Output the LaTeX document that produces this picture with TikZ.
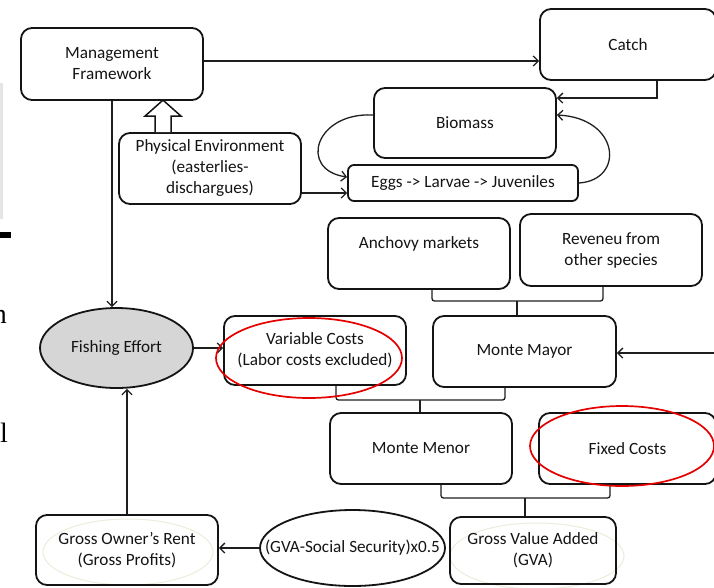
\documentclass[tikz,border=0pt]{standalone}
\usepackage{fontspec}
\setmainfont{Carlito}
\newfontfamily\serifcut{Liberation Serif}
\usetikzlibrary{arrows.meta,calc,shapes.geometric}
\begin{document}
\begin{tikzpicture}[x=1pt,y=-1pt,
  every node/.style={font=\fontsize{17.2}{21}\selectfont, text=black!92},
  box/.style={draw=black!92, line width=1.8pt, rounded corners=11pt, align=center, inner sep=0pt},
  oval/.style={ellipse, draw=black!92, line width=1.8pt, inner sep=0pt},
  conn/.style={draw=black!88, line width=1.3pt, -{Straight Barb[length=5pt,width=10pt]}},
  brace/.style={draw=black!88, line width=1.3pt, rounded corners=2.5pt},
  redring/.style={draw=red!90!black, line width=1.7pt},
  halo/.style={draw={rgb,255:red,236;green,235;blue,220}, line width=1pt},
  blockarrow/.style={draw=black!92, line width=1.5pt, fill=white, line join=miter},
  edgetext/.style={font=\serifcut\fontsize{28}{28}\selectfont, anchor=base east, inner sep=0pt, text=black}]
\useasboundingbox (0,0) rectangle (714,587);

% fragments of the neighbouring page along the left edge
\fill[black!10] (0,83) rectangle (2.5,219);
\fill[black] (0,232) rectangle (11,238);
\node[edgetext] (cutn) at (7,323) {n};
\node[edgetext] (cutl) at (8,442) {l};

% faint rings behind the bottom boxes
\draw[halo] (128,552) ellipse [x radius=85pt, y radius=33pt];
\draw[halo] (537,556) ellipse [x radius=87pt, y radius=33pt];

% boxes
\node[box, minimum width=182pt, minimum height=72pt] (mf) at (112,64) {Management\\Framework};
\node[box, minimum width=176pt, minimum height=71pt] (cat) at (628,44.5) {\raisebox{-2pt}{Catch}};
\node[box, minimum width=182pt, minimum height=70pt] (bio) at (465,123) {\raisebox{-2pt}{Biomass}};
\node[box, minimum width=230pt, minimum height=36pt, rounded corners=6pt] (eg) at (463,183) {Eggs -> Larvae -> Juveniles};
\node[box, minimum width=182pt, minimum height=71pt] (pe) at (210,168.5) {Physical Environment\\(easterlies-\\dischargues)};
\node[oval, fill=black!16, minimum width=153pt, minimum height=80pt] (fe) at (116.5,348) {Fishing Effort};
\node[box, minimum width=182pt, minimum height=69pt] (vc) at (315,350.5) {Variable Costs\\(Labor costs excluded)};
\node[box, minimum width=182pt, minimum height=71pt] (am) at (419,253.5) {Anchovy markets\\\mbox{}};
\node[box, minimum width=182pt, minimum height=72pt] (rv) at (611,250) {Reveneu from\\other species};
\node[box, minimum width=183pt, minimum height=71pt] (mm) at (524.5,351.5) {\raisebox{-2pt}{Monte Mayor}};
\node[box, minimum width=182pt, minimum height=71pt] (mn) at (421,448.5) {\raisebox{-3pt}{Monte Menor}};
\node[box, minimum width=177pt, minimum height=71pt] (fc) at (627.5,448.5) {\raisebox{-3pt}{Fixed Costs}};
\node[box, minimum width=166pt, minimum height=67pt] (gva) at (533,550.5) {Gross Value Added\\(GVA)};
\node[oval, minimum width=185pt, minimum height=76pt] (gs) at (352.5,548) {};
\node (gst) at (gs.center) {(GVA-Social Security)x0.5};
\node[box, minimum width=182pt, minimum height=70pt] (gor) at (127,550) {Gross Owner’s Rent\\(Gross Profits)};

% connectors
\coordinate (mfout) at ($(mf.east)+(0,-3)$);
\draw[conn] (mfout) -- (mfout -| cat.west);
\draw[conn] ($(cat.south)+(29,0)$) |- ($(bio.east)+(0,-25)$);
\draw[conn] ($(bio.west)+(0,-8)$) .. controls (315,112) and (298,170) .. ($(eg.west)+(0,-6)$);
\draw[conn] (eg.east) .. controls (625,180) and (620,118) .. ($(bio.east)+(0,-8)$);
\coordinate (peout) at ($(pe.east)+(0,24.5)$);
\draw[conn] (peout) -- (peout -| eg.west);
\draw[blockarrow] ($(pe.north)+(-55,0)$) -- ++(0,-16) -- ++(-10,0) -- ++(18,-16) -- ++(18,16) -- ++(-10,0) -- ++(0,16);
\draw[conn] (mf.south) -- (mf.south |- fe.north);
\draw[conn] (gor.north) -- (gor.north |- fe.south);
\draw[conn] (fe.east) -- (fe.east -| vc.west);
\coordinate (mmin) at (716,353);
\draw[conn] (mmin) -- (mmin -| mm.east);
\draw[conn] (gs.west) -- (gs.west -| gor.east);

% brackets joining pairs of boxes
\coordinate (j1) at (517,301);
\draw[brace] ($(am.south)+(13,0)$) |- (j1) -| ($(rv.south)+(-8,0)$);
\draw[brace] (j1) -- (j1 |- mm.north);
\coordinate (j2) at (420,400);
\draw[brace] ($(vc.south)+(21,0)$) |- (j2) -| ($(mm.south)+(-19.5,0)$);
\draw[brace] (j2) -- (j2 |- mn.north);
\coordinate (j3) at (525,498);
\draw[brace] ($(mn.south)+(20,0)$) |- (j3) -| ($(fc.south)+(-17.5,0)$);
\draw[brace] (j3) -- (j3 |- gva.north);

% red highlight rings
\draw[redring] (309,358) ellipse [x radius=93pt, y radius=40pt];
\draw[redring] (622,446) ellipse [x radius=92pt, y radius=40pt];
\end{tikzpicture}
\end{document}
